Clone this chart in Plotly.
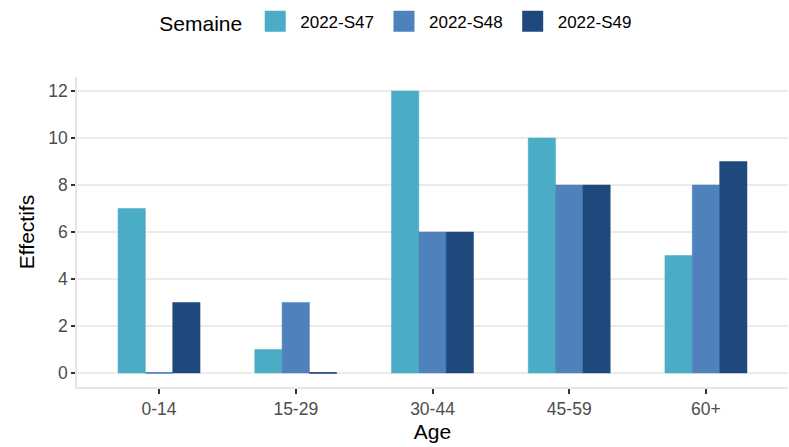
import plotly.graph_objects as go

ages = ["0-14", "15-29", "30-44", "45-59", "60+"]
weeks = ["2022-S47", "2022-S48", "2022-S49"]
s47 = [7, 1, 12, 10, 5]
s48 = [0, 3, 6, 8, 8]
s49 = [3, 0, 6, 8, 9]
colors = ["#4BACC6", "#4F81BD", "#1F497D"]
yticks = [0, 2, 4, 6, 8, 10, 12]

series = [s47, s48, s49]
xs = list(range(len(ages)))
bar_w = 0.2
offsets = [-bar_w, 0, bar_w]

fig = go.Figure()
for name, vals, col in zip(weeks, series, colors):
    fig.add_trace(go.Bar(
        x=xs, y=vals, name=name, legendgroup=name, showlegend=False,
        marker=dict(color=col, line=dict(color=col, width=0.5)),
        width=bar_w,
    ))

# legend entries with larger square keys
for name, col in zip(weeks, colors):
    fig.add_trace(go.Scatter(
        x=[None], y=[None], name=name, legendgroup=name, mode="markers",
        marker=dict(symbol="square", size=16, color=col, line=dict(color=col, width=5)),
        showlegend=True, hoverinfo="skip",
    ))

# zero-valued bars drawn as thin lines (as ggplot does)
for vals, col, off in zip(series, colors, offsets):
    for i, v in enumerate(vals):
        if v == 0:
            fig.add_trace(go.Scatter(
                x=[i + off - bar_w / 2, i + off + bar_w / 2], y=[v, v],
                mode="lines", line=dict(color=col, width=1.5),
                showlegend=False, hoverinfo="skip",
            ))

# white vertical breaks in grid at category positions
for i in xs:
    fig.add_shape(type="line", xref="x", yref="paper", x0=i, x1=i, y0=0, y1=1,
                  line=dict(color="white", width=2), layer="below")

fig.update_layout(
    width=789, height=447,
    margin=dict(l=77, r=1, t=77, b=60, autoexpand=False),
    paper_bgcolor="white", plot_bgcolor="white",
    barmode="group", bargap=0.4,
    font=dict(family="Liberation Sans, Arial, sans-serif", color="#000000"),
    legend=dict(
        orientation="h", x=0.113, xanchor="left", y=0.992, yanchor="top",
        yref="container",
        title=dict(text="Semaine", font=dict(size=21, color="#000000"), side="left"),
        font=dict(size=17, color="#000000"),
        itemwidth=40, itemsizing="trace",
        traceorder="normal",
    ),
    xaxis=dict(
        range=[-0.6, 4.6], tickmode="array", tickvals=xs, ticktext=ages,
        showgrid=False, zeroline=False, automargin=False,
        showline=True, linecolor="#E5E5E5", linewidth=1.5,
        ticks="outside", ticklen=5, tickcolor="#333333", tickwidth=1.5,
        tickfont=dict(size=17.5, color="#4D4D4D"),
        title=dict(text="Age", font=dict(size=21, color="#000000"), standoff=7),
    ),
    yaxis=dict(
        range=[-0.6, 12.6], tickmode="array", tickvals=yticks,
        showgrid=True, gridcolor="#EBEBEB", gridwidth=1.5, zeroline=False,
        automargin=False,
        showline=True, linecolor="#E5E5E5", linewidth=1.5,
        ticks="outside", ticklen=4, tickcolor="#333333", tickwidth=1.5,
        tickfont=dict(size=17.5, color="#4D4D4D"),
        title=dict(text="Effectifs", font=dict(size=21, color="#000000"), standoff=8),
    ),
)

fig.write_html(
    "out.html",
    config={"displayModeBar": False},
    post_script="document.body.style.margin='0';document.body.style.overflow='hidden';",
)
